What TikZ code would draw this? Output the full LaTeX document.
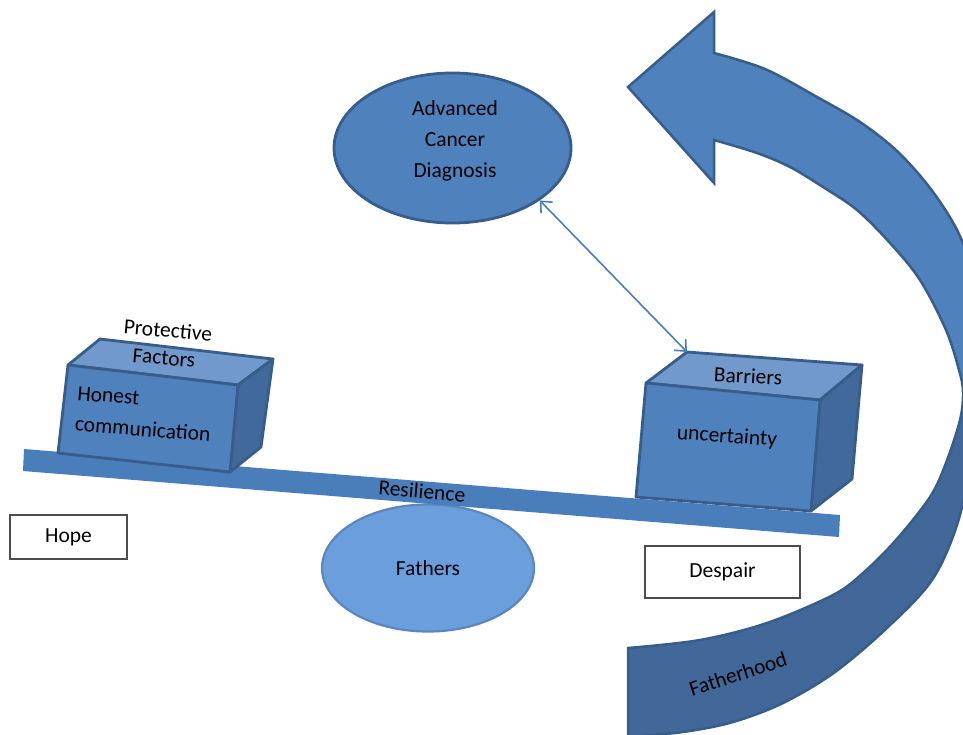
\documentclass[tikz,border=0pt]{standalone}
\usepackage{fontspec}
\setmainfont{Carlito}
\usetikzlibrary{shapes.geometric,arrows.meta}

\definecolor{accent}{HTML}{4F81BD}
\definecolor{edge}{HTML}{385D8A}
\definecolor{topface}{HTML}{7299CB}
\definecolor{sideface}{HTML}{41699B}
\definecolor{bandDark}{HTML}{416899}
\definecolor{beam}{HTML}{4A7EBB}
\definecolor{lightfill}{HTML}{6A9EDC}
\definecolor{lightedge}{HTML}{5B86BE}

% dark lower part, lighter upper part for the curved arrow
\pgfdeclareverticalshading{bandshade}{100bp}{color(0bp)=(bandDark); color(47.3bp)=(bandDark); color(48.8bp)=(accent); color(100bp)=(accent)}

\begin{document}
\begin{tikzpicture}[x=1pt,y=-1pt,
  font=\fontsize{21.5}{31}\selectfont,
  face/.style={draw=edge, line width=2.8pt, line join=round},
  txt/.style={inner sep=0pt, text=black},
  tagbox/.style={draw=black!70, line width=1.1pt, fill=white, inner sep=0pt},
  oval/.style={ellipse, inner sep=0pt, align=center},
  link/.style={draw=beam, line width=1.6pt,
    {Straight Barb[length=9pt,width=16pt]}-{Straight Barb[length=9pt,width=16pt]}},
  bandstyle/.style={shade, shading=bandshade, draw=edge, line width=2.5pt, line join=miter}]

\useasboundingbox (0,0) rectangle (963,734);

% fulcrum
\node[oval, fill=lightfill, draw=lightedge, line width=2.2pt,
      minimum width=212pt, minimum height=127pt] (fathers) at (428,568) {};
\node[txt] (fatherslbl) at (fathers.center) {Fathers};

% balance beam
\fill[beam] (24,449) -- (840,515) -- (839,537) -- (23,471) -- cycle;
\node[txt, rotate=-5] (resil) at (422,491) {Resilience};

% left block
\filldraw[face, fill=topface] (100,339) -- (273,359) -- (238,385) -- (68,365) -- cycle;
\filldraw[face, fill=sideface] (238,385) -- (273,359) -- (261,447) -- (230,472) -- cycle;
\filldraw[face, fill=accent] (68,365) -- (238,385) -- (230,472) -- (58,453) -- cycle;
\node[txt, rotate=-5] (protect) at (168,330) {Protective};
\node[txt, rotate=-5] (factors) at (164,358) {Factors};
\node[txt, rotate=-4.5, align=left] (honest) at (144,414) {Honest\\communication};

% right block
\filldraw[face, fill=topface] (687,352) -- (862,365) -- (820,400) -- (646,383) -- cycle;
\filldraw[face, fill=sideface] (820,400) -- (862,365) -- (852,479) -- (811,511) -- cycle;
\filldraw[face, fill=accent] (646,383) -- (820,400) -- (811,511) -- (636,497) -- cycle;
\coordinate (barP) at (687,352);
\node[txt, rotate=-3] (barriers) at (748,376) {Barriers};
\node[txt, rotate=-4] (uncert) at (727,437) {uncertainty};

% end labels
\node[tagbox, minimum width=117pt, minimum height=44pt] (hope) at (68.5,537) {Hope};
\node[tagbox, minimum width=155pt, minimum height=52pt] (despair) at (722.5,572) {Despair};

% diagnosis
\node[oval, fill=accent, draw=edge, line width=2.8pt,
      minimum width=237pt, minimum height=150pt] (diag) at (452.5,148) {};
\node[txt, align=center] (diaglbl) at (455,141) {Advanced\\Cancer\\Diagnosis};

\draw[link] (diag.-31) -- (barP);

% curved arrow
\begin{scope}
\clip (0,0) rectangle (963,734);
\path[bandstyle] (628,87) -- (714,12) -- (714,53)
  -- plot[smooth, tension=0.55] coordinates {(714,53) (765,69) (817,97) (860,122) (897,151) (930,188) (957,230) (976,280) (986,340) (984,400) (972,460) (957,525) (932,580) (888,627) (835,672) (783,703) (733,722) (683,732) (628,737)}
  -- (628,648)
  -- plot[smooth, tension=0.55] coordinates {(628,648) (700,640) (767,623) (833,595) (863,573) (896,540) (930,497) (946,463) (960,420) (963,392) (959,370) (946,330) (920,280) (890,243) (857,210) (823,187) (790,167) (757,153) (714,140)}
  -- (714,183) -- cycle;
\end{scope}
\node[txt, rotate=18] (fatherhood) at (738,674) {Fatherhood};

\end{tikzpicture}
\end{document}
